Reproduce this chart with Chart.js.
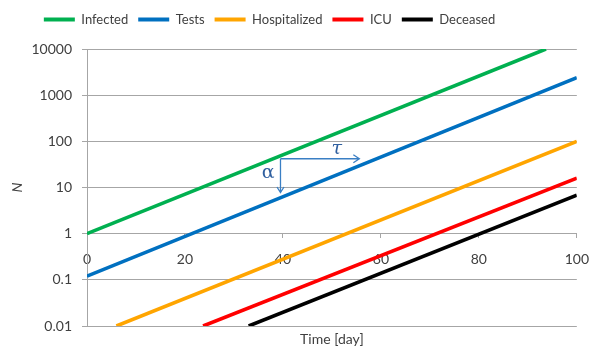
<!DOCTYPE html>
<html>
<head>
<meta charset="utf-8">
<script src="https://cdn.jsdelivr.net/npm/chart.js@4/dist/chart.umd.min.js"></script>
<style>
  html, body { margin: 0; padding: 0; background: #ffffff; }
  #wrap { width: 602px; height: 351px; }
</style>
</head>
<body>
<div id="wrap"><canvas id="c" width="602" height="351"></canvas></div>
<script>
// ---- data ----
const seriesNames = ["Infected", "Tests", "Hospitalized", "ICU", "Deceased"];
const infectedDays = [0, 93.7];
const infectedN = [1, 10000];
const testsDays = [0, 100];
const testsN = [0.12, 2400];
const hospitalizedDays = [6, 100];
const hospitalizedN = [0.01, 100];
const icuDays = [23.7, 100];
const icuN = [0.01, 16];
const deceasedDays = [33, 100];
const deceasedN = [0.01, 6.8];
const yTickValues = [0.01, 0.1, 1, 10, 100, 1000, 10000];
const yTickLabels = ["0.01", "0.1", "1", "10", "100", "1000", "10000"];
const xTickLabels = ["0", "20", "40", "60", "80", "100"];
// annotation: tau (horizontal) and alpha (vertical) arrows
const arrowCorner = [39.5, 42];
const tauArrowEndDay = 55.6;
const alphaArrowEndN = 7.8;
const tauLabelAt = [51, 68];
const alphaLabelAt = [37, 21];

const colors = ["#00b050", "#0070c0", "#ffa500", "#ff0000", "#000000"];
const toPts = (xs, ys) => xs.map((x, i) => ({ x: x, y: ys[i] }));
const allSeries = [
  toPts(infectedDays, infectedN),
  toPts(testsDays, testsN),
  toPts(hospitalizedDays, hospitalizedN),
  toPts(icuDays, icuN),
  toPts(deceasedDays, deceasedN)
];

const FONT = "Lato";
const TXT = "#404040";
const GRID = "#a6a6a6";

const annotationPlugin = {
  id: "tauAlpha",
  afterDatasetsDraw(chart) {
    const ctx = chart.ctx, xs = chart.scales.x, ys = chart.scales.y;
    const cx = xs.getPixelForValue(arrowCorner[0]);
    const cy = ys.getPixelForValue(arrowCorner[1]);
    const ex = xs.getPixelForValue(tauArrowEndDay);
    const ey = ys.getPixelForValue(alphaArrowEndN);
    ctx.save();
    ctx.strokeStyle = "#3a7fc4";
    ctx.lineWidth = 1.3;
    ctx.beginPath();
    ctx.moveTo(cx, cy); ctx.lineTo(ex, cy);
    ctx.moveTo(ex - 6, cy - 4); ctx.lineTo(ex, cy); ctx.lineTo(ex - 6, cy + 4);
    ctx.moveTo(cx, cy); ctx.lineTo(cx, ey);
    ctx.moveTo(cx - 3.5, ey - 5.5); ctx.lineTo(cx, ey); ctx.lineTo(cx + 3.5, ey - 5.5);
    ctx.stroke();
    ctx.fillStyle = "#2f5f9f";
    ctx.textAlign = "center";
    ctx.textBaseline = "middle";
    ctx.font = "italic 19px 'DejaVu Serif'";
    ctx.fillText("τ", xs.getPixelForValue(tauLabelAt[0]), ys.getPixelForValue(tauLabelAt[1]));
    ctx.font = "19px 'DejaVu Serif'";
    ctx.fillText("α", xs.getPixelForValue(alphaLabelAt[0]), ys.getPixelForValue(alphaLabelAt[1]));
    ctx.restore();
  }
};

// shift the legend row left so that it sits where the reference puts it
const legendShift = {
  id: "legendShift",
  afterLayout(chart) {
    if (chart.legend) { chart.legend.left -= 19; chart.legend.right -= 19; }
  }
};

new Chart(document.getElementById("c"), {
  type: "line",
  data: {
    datasets: seriesNames.map((name, i) => ({
      label: name,
      data: allSeries[i],
      borderColor: colors[i],
      backgroundColor: colors[i],
      borderWidth: 3.6,
      pointRadius: 0,
      tension: 0,
      xAxisID: "x",
      yAxisID: "y"
    }))
  },
  options: {
    responsive: false,
    animation: false,
    layout: { padding: { left: 0, right: 25, top: 3, bottom: 0 } },
    plugins: {
      tooltip: { enabled: false },
      legend: {
        position: "top",
        align: "center",
        labels: {
          boxWidth: 31,
          boxHeight: 4,
          padding: 10,
          color: TXT,
          font: { family: FONT, size: 13 },
          generateLabels: (chart) => chart.data.datasets.map((ds, i) => ({
            text: ds.label,
            fillStyle: ds.borderColor,
            strokeStyle: ds.borderColor,
            lineWidth: 0,
            hidden: false,
            datasetIndex: i,
            fontColor: TXT
          }))
        }
      }
    },
    scales: {
      x: {
        type: "linear",
        min: 0,
        max: 100,
        position: { y: 1 },
        ticks: {
          stepSize: 20,
          color: TXT,
          padding: 13,
          font: { family: FONT, size: 14 },
          callback: (v, i) => xTickLabels[i]
        },
        grid: { drawOnChartArea: false, drawTicks: true, tickLength: 4, color: GRID, lineWidth: 1 },
        border: { display: true, color: GRID, width: 1 }
      },
      x2: {
        type: "linear",
        position: "bottom",
        min: 0,
        max: 100,
        ticks: { display: false },
        grid: { display: false, drawTicks: false },
        border: { display: false },
        title: {
          display: true,
          text: "Time [day]",
          color: TXT,
          font: { family: FONT, size: 14 },
          padding: { top: 4, bottom: 3 }
        },
        afterFit: (s) => { s.height = 25; }
      },
      spacer: {
        type: "linear",
        position: "top",
        min: 0,
        max: 1,
        ticks: { display: false },
        grid: { display: false, drawTicks: false },
        border: { display: false },
        afterFit: (s) => { s.height = 13; }
      },
      y: {
        type: "logarithmic",
        position: "left",
        min: 0.01,
        max: 10000,
        afterBuildTicks: (s) => { s.ticks = yTickValues.map(v => ({ value: v })); },
        ticks: {
          autoSkip: false,
          color: TXT,
          padding: 10,
          font: { family: FONT, size: 14 },
          callback: (v, i) => yTickLabels[i]
        },
        grid: { color: GRID, lineWidth: 1, drawTicks: true, tickLength: 5 },
        border: { display: true, color: GRID, width: 1 },
        title: {
          display: true,
          text: "N",
          color: TXT,
          font: { family: FONT, size: 14, style: "italic" },
          padding: { top: 9, bottom: 0 }
        },
        afterFit: (s) => { s.width = 87; }
      }
    }
  },
  plugins: [annotationPlugin, legendShift]
});
</script>
</body>
</html>
